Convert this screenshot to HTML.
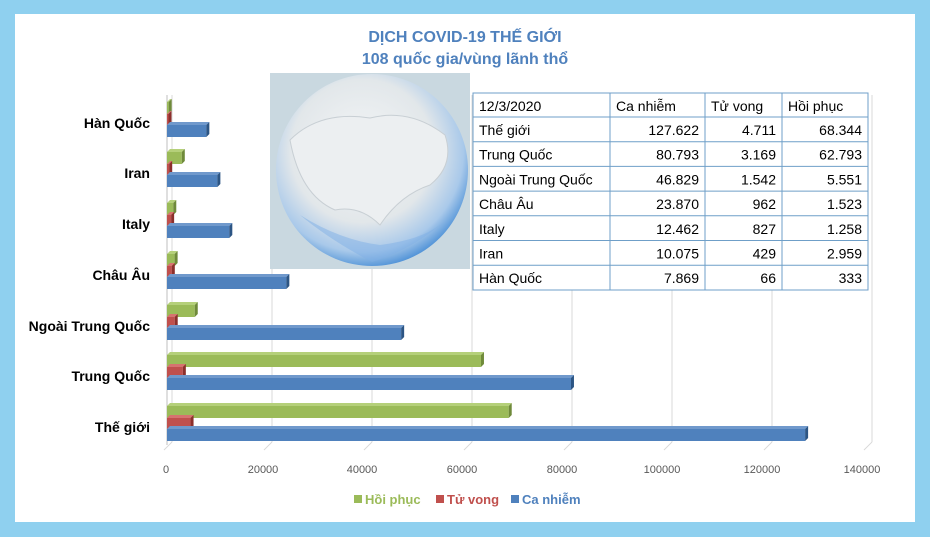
<!DOCTYPE html>
<html><head><meta charset="utf-8"><style>
html,body{margin:0;padding:0;}
body{width:930px;height:537px;background:#8fd0ef;position:relative;overflow:hidden;font-family:"Liberation Sans",sans-serif;}
#w{position:absolute;left:15px;top:14px;width:900px;height:508px;background:#fff;}
svg{position:absolute;left:0;top:0;}
</style></head><body>
<div id="w"></div>
<svg id="s" width="930" height="537" xmlns="http://www.w3.org/2000/svg" font-family="Liberation Sans, sans-serif">
<defs>
<radialGradient id="g" cx="0.45" cy="0.4" r="0.62">
<stop offset="0" stop-color="#f4f6f7"/><stop offset="0.6" stop-color="#e2e7ea"/><stop offset="0.85" stop-color="#a9c9ea"/><stop offset="1" stop-color="#4a8fd6"/>
</radialGradient>
</defs>
<text x="465" y="42" text-anchor="middle" font-size="16" font-weight="bold" fill="#4f81bd">DỊCH COVID-19 THẾ GIỚI</text>
<text x="465" y="64" text-anchor="middle" font-size="16" font-weight="bold" fill="#4f81bd">108 quốc gia/vùng lãnh thổ</text>
<g id="grid" stroke="#d9d9d9" stroke-width="1"></g>
<rect x="270" y="73" width="200" height="196" fill="#c9d8e0"/>
<circle cx="372" cy="170" r="96" fill="url(#g)"/>
<path d="M290,140 Q320,110 370,118 Q410,108 445,135 Q455,165 430,185 Q400,195 380,225 Q360,205 335,210 Q300,195 290,140Z" fill="#eceff1" stroke="#c8cfd4" stroke-width="1"/>
<path d="M300,215 Q330,240 372,262 Q410,250 440,225 Q420,240 380,245 Q340,240 300,215Z" fill="#7fb0e6" opacity="0.5"/>
<g id="bars"></g>
<g id="tbl"></g>
<g font-size="11" fill="#595959" text-anchor="middle">
<text x="166" y="473">0</text><text x="263" y="473">20000</text><text x="362" y="473">40000</text><text x="462" y="473">60000</text><text x="562" y="473">80000</text><text x="662" y="473">100000</text><text x="762" y="473">120000</text><text x="862" y="473">140000</text>
</g>
<g font-size="13" font-weight="bold">
<rect x="354" y="495" width="8" height="8" fill="#9bbb59"/><text x="365" y="504" fill="#9bbb59">Hồi phục</text>
<rect x="436" y="495" width="8" height="8" fill="#c0504d"/><text x="447" y="504" fill="#c0504d">Tử vong</text>
<rect x="511" y="495" width="8" height="8" fill="#4f81bd"/><text x="522" y="504" fill="#4f81bd">Ca nhiễm</text>
</g>
</svg>
<script>
var NS="http://www.w3.org/2000/svg";
function el(p,t,a,txt){var e=document.createElementNS(NS,t);for(var k in a)e.setAttribute(k,a[k]);if(txt!==undefined)e.textContent=txt;p.appendChild(e);return e;}
var grid=document.getElementById('grid');
for(var i=0;i<=7;i++){var x=167+i*100;el(grid,'line',{x1:x+5,y1:95,x2:x+5,y2:442});el(grid,'line',{x1:x+5,y1:442,x2:x-3,y2:450});}
el(grid,'line',{x1:167,y1:95,x2:167,y2:445,stroke:'#bfbfbf'});
var d=[["Thế giới",127622,4711,68344,427],["Trung Quốc",80793,3169,62793,376],["Ngoài Trung Quốc",46829,1542,5551,326],["Châu Âu",23870,962,1523,275],["Italy",12462,827,1258,224],["Iran",10075,429,2959,173],["Hàn Quốc",7869,66,333,123]];
var B=document.getElementById('bars');
function bar(y,v,c1,c2,c3){var w=Math.max(v*0.005,1.5),x=167,h=12,o=3;
el(B,'rect',{x:x,y:y,width:w,height:h,fill:c1});
el(B,'polygon',{points:(x)+','+y+' '+(x+o)+','+(y-o)+' '+(x+w+o)+','+(y-o)+' '+(x+w)+','+y,fill:c2});
el(B,'polygon',{points:(x+w)+','+y+' '+(x+w+o)+','+(y-o)+' '+(x+w+o)+','+(y+h-o)+' '+(x+w)+','+(y+h),fill:c3});}
d.forEach(function(r){var c=r[4];
bar(c-21,r[3],'#9bbb59','#b5d07a','#6f8a3a');
bar(c-9,r[2],'#c0504d','#d67370','#8c2f2c');
bar(c+2,r[1],'#4f81bd','#7099cc','#2c5584');
el(B,'text',{x:150,y:c+5,'text-anchor':'end','font-size':14,'font-weight':'bold',fill:'#000'},r[0]);});
var T=document.getElementById('tbl');
var cols=[473,610,705,782,868],rh=24.7;
el(T,'rect',{x:473,y:93,width:395,height:197,fill:'#fff',stroke:'#6f9fc8'});
var rows=[["12/3/2020","Ca nhiễm","Tử vong","Hồi phục"],["Thế giới","127.622","4.711","68.344"],["Trung Quốc","80.793","3.169","62.793"],["Ngoài Trung Quốc","46.829","1.542","5.551"],["Châu Âu","23.870","962","1.523"],["Italy","12.462","827","1.258"],["Iran","10.075","429","2.959"],["Hàn Quốc","7.869","66","333"]];
for(var j=1;j<4;j++)el(T,'line',{x1:cols[j],y1:93,x2:cols[j],y2:290,stroke:'#6f9fc8'});
for(var r=0;r<8;r++){var y0=r==0?93:117+(r-1)*rh;if(r>0)el(T,'line',{x1:473,y1:y0,x2:868,y2:y0,stroke:'#6f9fc8'});
var ty=y0+18;
for(var j=0;j<4;j++){var hdr=r==0||j==0;el(T,'text',{x:hdr?cols[j]+6:cols[j+1]-6,y:ty,'text-anchor':hdr?'start':'end','font-size':14,fill:'#000'},rows[r][j]);}}
</script>
</body></html>
